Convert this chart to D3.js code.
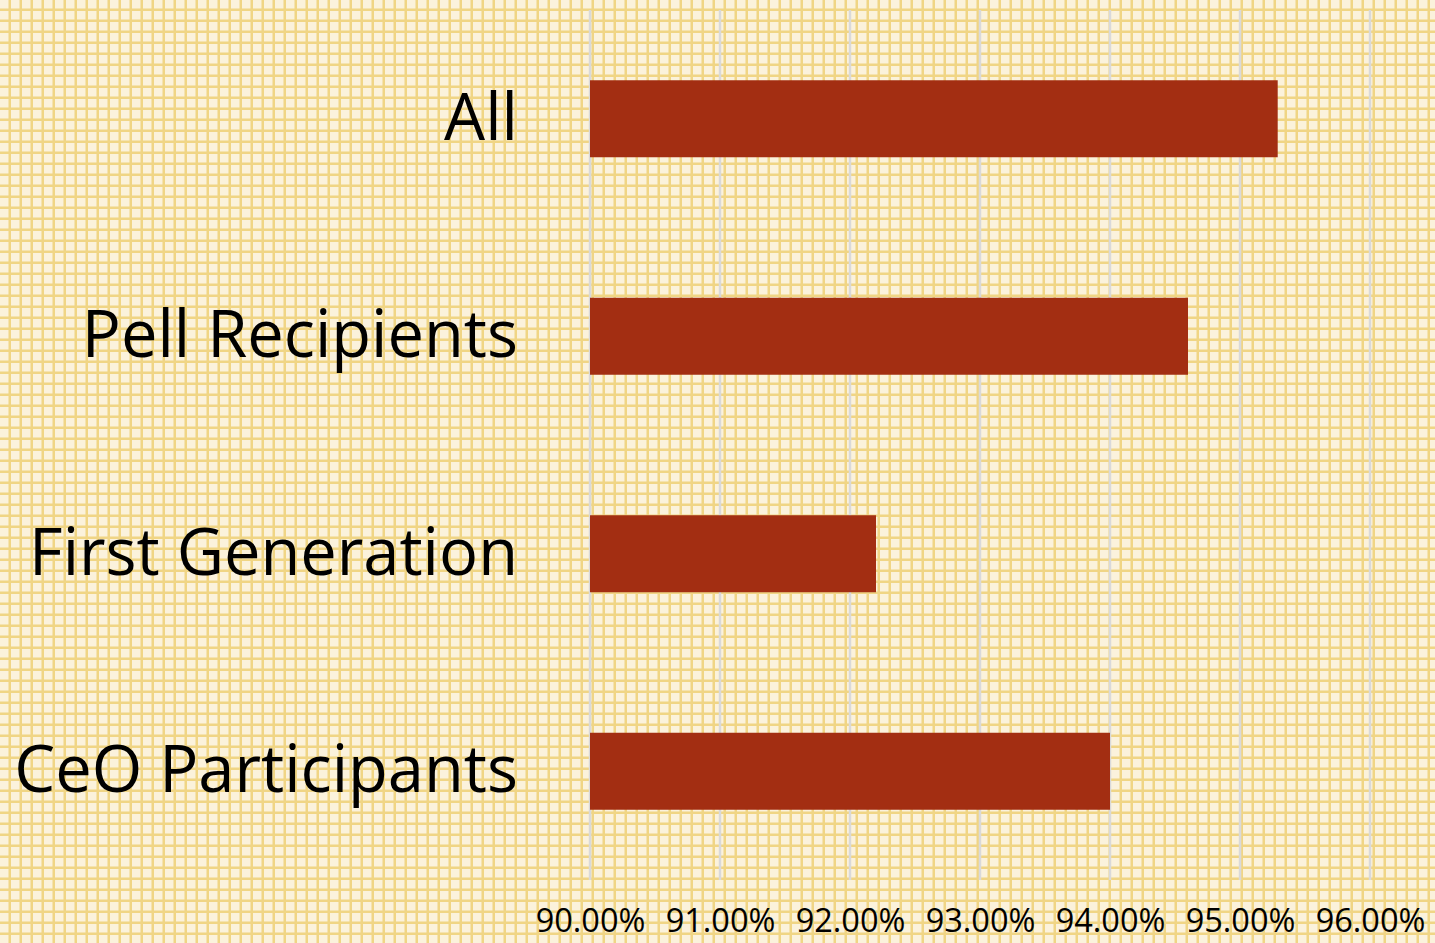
<!DOCTYPE html>
<html>
<head>
<meta charset="utf-8">
<script src="https://cdn.jsdelivr.net/npm/d3@7"></script>
<style>
  html, body { margin: 0; padding: 0; background: #fbf2dc; }
  svg { display: block; }
</style>
</head>
<body>
<div id="chart-area"></div>
<script>
const categories = ['All', 'Pell Recipients', 'First Generation', 'CeO Participants']
const values = [0.9529, 0.9460, 0.9220, 0.9400]
const xTicks = [0.90, 0.91, 0.92, 0.93, 0.94, 0.95, 0.96]

const canvas = { height: 943, width: 1435 }
const margin = { left: 590, right: 65, top: 10, bottom: 63 }
const plot = {
	height: canvas.height - margin.top - margin.bottom,
	width: canvas.width - margin.left - margin.right
}

let svg = d3.select('#chart-area')
	.append('svg')
		.attr('height', canvas.height)
		.attr('width', canvas.width)

// Background grid pattern
let pattern = svg.append('defs')
	.append('pattern')
		.attr('id', 'grid')
		.attr('patternUnits', 'userSpaceOnUse')
		.attr('width', 11)
		.attr('height', 11)
pattern.append('rect')
	.attr('width', 11)
	.attr('height', 11)
	.attr('fill', '#fbf2dc')
pattern.append('rect')
	.attr('x', 8.5).attr('width', 3).attr('height', 11)
	.attr('fill', '#f0d585')
pattern.append('rect')
	.attr('y', 8.5).attr('width', 11).attr('height', 3)
	.attr('fill', '#f0d585')
svg.append('rect')
	.attr('width', canvas.width)
	.attr('height', canvas.height)
	.attr('fill', 'url(#grid)')

let g = svg.append('g')
	.attr('transform', `translate(${margin.left}, ${margin.top})`)

// Scales
let x = d3.scaleLinear()
	.domain([0.90, 0.96])
	.range([0, plot.width])
let y = d3.scaleBand()
	.domain(categories)
	.range([0, plot.height])
	.paddingInner(0.646)
	.paddingOuter(0.323)

// Gridlines
g.append('g')
	.selectAll('line')
	.data(xTicks)
	.enter()
	.append('line')
		.attr('x1', d => x(d))
		.attr('x2', d => x(d))
		.attr('y1', 0)
		.attr('y2', plot.height)
		.attr('stroke', '#d9d9d9')
		.attr('stroke-width', 2.5)

// X axis labels
let xAxis = d3.axisBottom(x)
	.tickValues(xTicks)
	.tickSize(0)
	.tickPadding(29)
	.tickFormat(d3.format('.2%'))
let xAxisG = g.append('g')
	.attr('transform', `translate(0, ${plot.height})`)
	.call(xAxis)
xAxisG.select('.domain').remove()
xAxisG.selectAll('text')
	.attr('font-family', '"Open Sans", sans-serif')
	.attr('font-size', 32.5)
	.attr('fill', '#000')

// Y axis labels
let yAxis = d3.axisLeft(y)
	.tickSize(0)
	.tickPadding(72)
let yAxisG = g.append('g').call(yAxis)
yAxisG.select('.domain').remove()
yAxisG.selectAll('text')
	.attr('font-family', '"Open Sans", sans-serif')
	.attr('font-size', 65)
	.attr('fill', '#000')

// Bars
g.selectAll('rect.bar')
	.data(values)
	.enter()
	.append('rect')
		.attr('class', 'bar')
		.attr('x', x(0.90))
		.attr('y', (d, i) => y(categories[i]))
		.attr('width', d => x(d) - x(0.90))
		.attr('height', y.bandwidth())
		.attr('fill', '#a32e12')
</script>
</body>
</html>
